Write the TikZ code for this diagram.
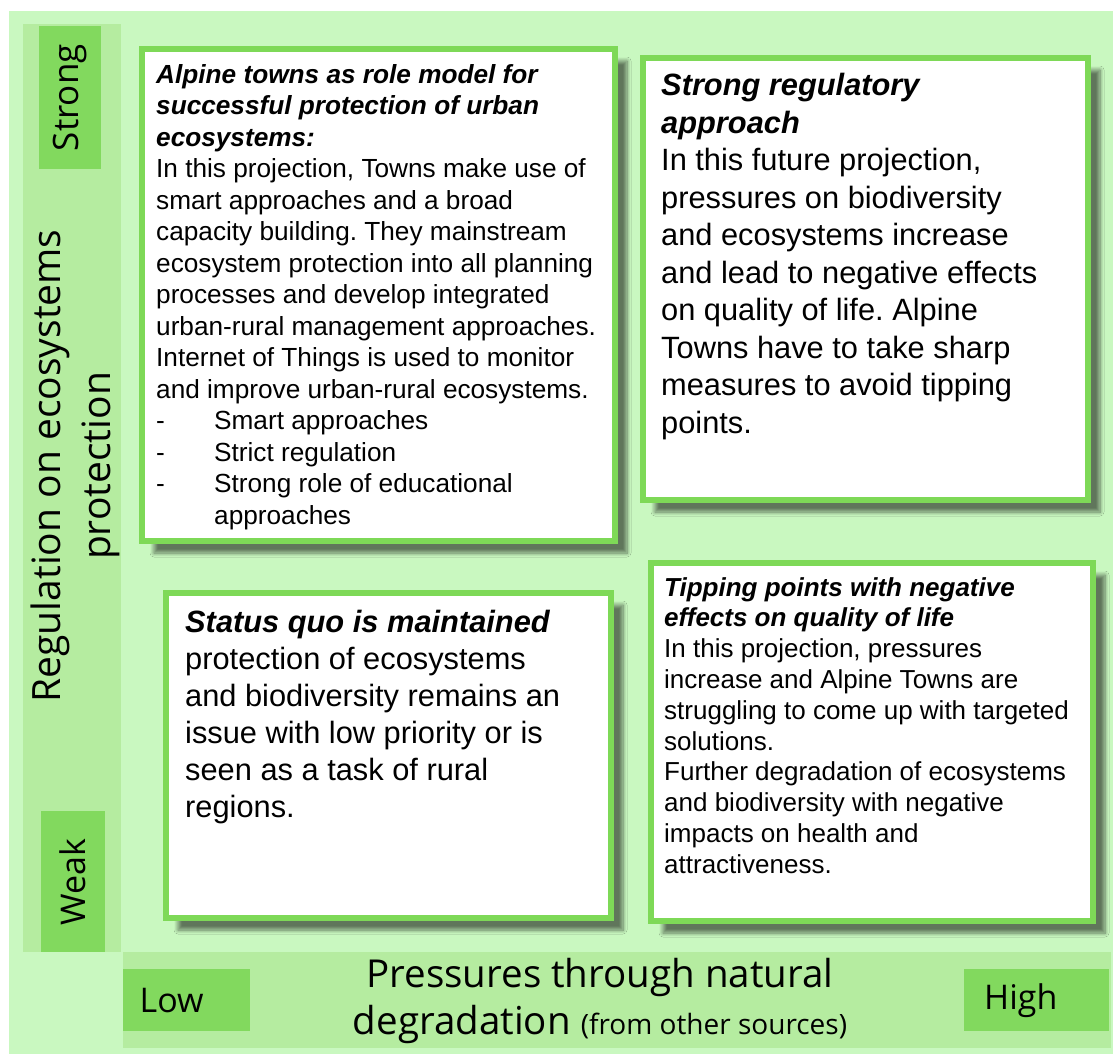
\documentclass[tikz,border=0pt]{standalone}
\usepackage{fontspec}
\setmainfont{Liberation Sans}
\newfontfamily\axisfont{Open Sans}
\usetikzlibrary{shadows.blur}
\usetikzlibrary{positioning}
\frenchspacing

\definecolor{bggreen}{HTML}{C9F8C0}
\definecolor{bargreen}{HTML}{B5ECA0}
\definecolor{taggreen}{HTML}{82D95E}
\definecolor{boxgreen}{HTML}{7ED957}

\tikzset{
	bar/.style={fill=bargreen, draw=none, anchor=north west, inner sep=0pt},
	tag/.style={fill=taggreen, draw=none, anchor=north west, inner sep=0pt, font=\axisfont\fontsize{34}{40}\selectfont},
	scenario/.style={draw=boxgreen, line width=6pt, fill=white, anchor=north west, inner sep=0pt,
		blur shadow={shadow xshift=12pt, shadow yshift=-12pt, shadow blur radius=4pt, shadow blur steps=8, shadow opacity=52}},
	body/.style={anchor=north west, inner sep=0pt, align=left},
}

\newcommand{\hd}[1]{\textbf{\textit{#1}}}
\newcommand{\bul}{\makebox[58pt][l]{-}}

\begin{document}
\begin{tikzpicture}[x=1pt,y=-1pt]
	\useasboundingbox (0,0) rectangle (1113,1055);
	\fill[bggreen] (9,11) rectangle (1113,1054);
	
	% axes
	\node[bar, minimum width=98pt, minimum height=928pt] (vbar) at (23,24) {};
	\node[bar, minimum width=988pt, minimum height=96pt] (hbar) at (123,952) {};
	\node[tag, minimum width=62pt, minimum height=143pt] (strong) at (39,26) {};
	\node[rotate=90, font=\axisfont\fontsize{35}{40}\selectfont] at (strong.center) {Strong};
	\node[tag, minimum width=64pt, minimum height=141pt] (weak) at (41,811) {};
	\node[rotate=90, font=\axisfont\fontsize{34}{40}\selectfont] at (weak.center) {Weak};
	\node[tag, minimum width=127pt, minimum height=62pt, align=left, text width=110pt] (low) at (123,969) {\hspace*{8pt}Low};
	\node[tag, minimum width=145pt, minimum height=62pt, align=left, text width=125pt] (high) at (964,969) {\hspace*{10pt}High};
	\node[rotate=90, align=center, font=\axisfont\fontsize{39}{50}\selectfont] (ylabel) at (75,466)
		{Regulation on ecosystems\\protection};
	\node[align=center, font=\axisfont\fontsize{38.5}{47}\selectfont] (xlabel) at (600,1001)
		{Pressures through natural\\degradation {\fontsize{28}{30}\selectfont (from other sources)}};
	
	% scenarios
	\node[scenario, minimum width=473pt, minimum height=492pt] (alpine) at (139,46) {};
	\node[scenario, minimum width=445pt, minimum height=442pt] (regul) at (640,55) {};
	\node[scenario, minimum width=445pt, minimum height=325pt] (statusquo) at (163,590) {};
	\node[scenario, minimum width=442pt, minimum height=358pt] (tipping) at (648,560) {};
	
	\node[body, font=\fontsize{26.2}{31.5}\selectfont] (alpinetext) at (156,64) {%
		\hd{Alpine towns as role model for}\\
		\hd{successful protection of urban}\\
		\hd{ecosystems:}\\
		In this projection, Towns make use of\\
		smart approaches and a broad\\
		capacity building. They mainstream\\
		ecosystem protection into all planning\\
		processes and develop integrated\\
		urban-rural management approaches.\\
		Internet of Things is used to monitor\\
		and improve urban-rural ecosystems.\\
		\bul Smart approaches\\
		\bul Strict regulation\\
		\bul Strong role of educational\\
		\hspace*{58pt}approaches};
	
	\node[body, font=\fontsize{30.8}{37.5}\selectfont] (regultext) at (661,73) {%
		\hd{Strong regulatory}\\
		\hd{approach}\\
		In this future projection,\\
		pressures on biodiversity\\
		and ecosystems increase\\
		and lead to negative effects\\
		on quality of life. Alpine\\
		Towns have to take sharp\\
		measures to avoid tipping\\
		points.};
	
	\node[body, font=\fontsize{30.8}{37}\selectfont] (statustext) at (185,610) {%
		\hd{Status quo is maintained}\\
		protection of ecosystems\\
		and biodiversity remains an\\
		issue with low priority or is\\
		seen as a task of rural\\
		regions.};
	
	\node[body, font=\fontsize{26}{30.8}\selectfont] (tippingtext) at (664,577) {%
		\hd{Tipping points with negative}\\
		\hd{effects on quality of life}\\
		In this projection, pressures\\
		increase and Alpine Towns are\\
		struggling to come up with targeted\\
		solutions.\\
		Further degradation of ecosystems\\
		and biodiversity with negative\\
		impacts on health and\\
		attractiveness.};
\end{tikzpicture}
\end{document}
